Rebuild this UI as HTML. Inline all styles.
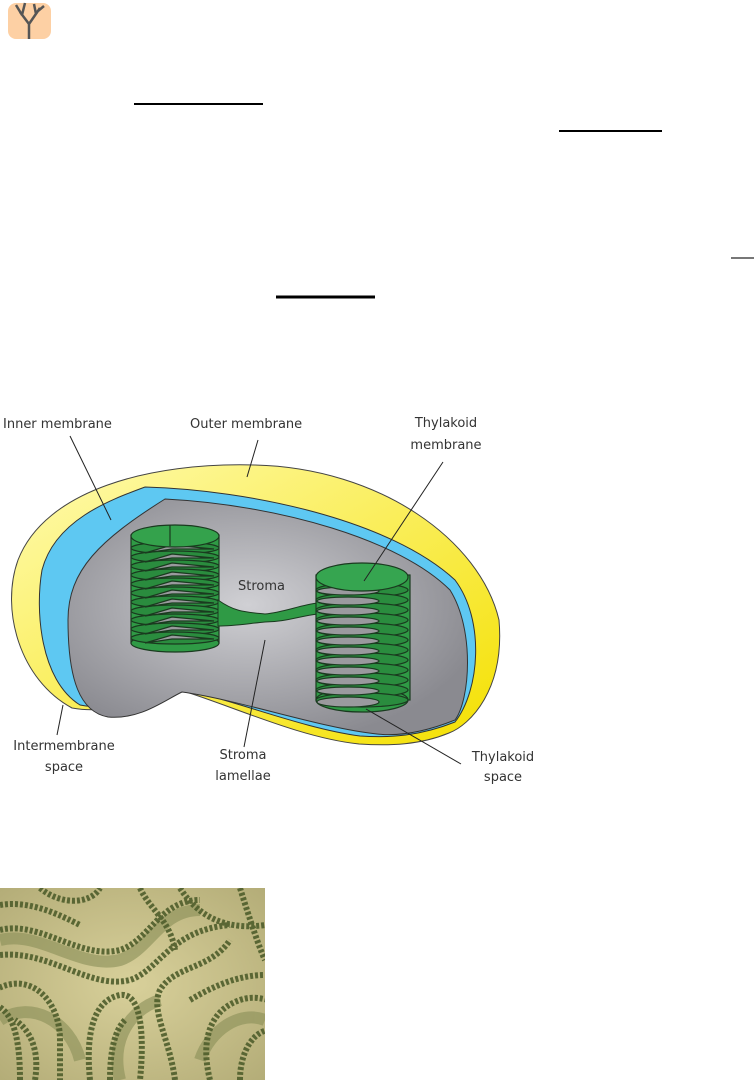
<!DOCTYPE html>
<html><head><meta charset="utf-8"><style>
html,body{margin:0;padding:0;background:#fff;width:756px;height:1080px;overflow:hidden}
svg{position:absolute;left:0;top:0}
text{font-family:"DejaVu Sans","Liberation Sans",sans-serif;font-size:13px;fill:#333}
</style></head><body>
<svg width="756" height="1080" viewBox="0 0 756 1080">
<defs>
<linearGradient id="gy" x1="0" y1="0" x2="1" y2="1"><stop offset="0" stop-color="#fffbb0"/><stop offset="1" stop-color="#f4e000"/></linearGradient>
<radialGradient id="gg" cx="0.45" cy="0.45" r="0.6"><stop offset="0" stop-color="#d0d0d4"/><stop offset="1" stop-color="#8a8a90"/></radialGradient>
<radialGradient id="mg" cx="0.5" cy="0.5" r="0.7"><stop offset="0" stop-color="#d8d09a"/><stop offset="1" stop-color="#b4ad78"/></radialGradient>
</defs>
<!-- icon -->
<rect x="8" y="3" width="43" height="36" rx="8" fill="#fdd0a4"/>
<path d="M29 39 L29 24 M29 24 L20 12 M29 24 L40 8 M22 15 L16 5 M22 15 L25 3 M36 14 L34 4 M38 11 L44 6" stroke="#555" stroke-width="2.5" fill="none"/>
<!-- underlines -->
<line x1="134" y1="104" x2="263" y2="104" stroke="#000" stroke-width="2"/>
<line x1="559" y1="131" x2="662" y2="131" stroke="#000" stroke-width="2"/>
<line x1="731" y1="258" x2="754" y2="258" stroke="#777" stroke-width="2"/>
<line x1="276" y1="297" x2="375" y2="297" stroke="#000" stroke-width="3"/>

<!-- chloroplast outer -->
<path d="M72 708 C20 680 0 610 18 560 C45 490 150 462 255 465 C380 468 480 540 499 620 C505 690 470 725 449 733 C420 745 390 746 359 744 C300 738 230 705 180 690 C150 700 110 715 72 708 Z" fill="url(#gy)" stroke="#444" stroke-width="1"/>
<path d="M80 705 C40 680 35 610 42 570 C55 520 110 500 145 487 C250 490 390 520 455 580 C485 620 480 690 455 722 C420 736 390 738 360 736 C300 728 230 698 182 690 C150 700 115 712 80 705 Z" fill="#5ec8f2" stroke="#333" stroke-width="1"/>
<path d="M108 717 C80 712 68 680 68 620 C68 570 100 540 165 499 C280 505 400 540 450 590 C475 630 470 700 455 720 C420 734 395 736 377 734 C320 728 240 700 182 692 C165 700 140 720 108 717 Z" fill="url(#gg)" stroke="#333" stroke-width="1"/>

<!-- left stack -->
<g stroke="#1a3a1f" stroke-width="1.2">
<rect x="131" y="535" width="88" height="108" fill="#2f9a45"/>
<ellipse cx="175" cy="643" rx="44" ry="9" fill="#2f9a45"/>
<g fill="#2a8c3e">
<ellipse cx="175" cy="548" rx="44" ry="6"/><ellipse cx="175" cy="557" rx="44" ry="6"/><ellipse cx="175" cy="566" rx="44" ry="6"/><ellipse cx="175" cy="575" rx="44" ry="6"/><ellipse cx="175" cy="584" rx="44" ry="6"/><ellipse cx="175" cy="593" rx="44" ry="6"/><ellipse cx="175" cy="602" rx="44" ry="6"/><ellipse cx="175" cy="611" rx="44" ry="6"/><ellipse cx="175" cy="620" rx="44" ry="6"/><ellipse cx="175" cy="629" rx="44" ry="6"/><ellipse cx="175" cy="638" rx="44" ry="6"/>
</g>
<g fill="#9a9a9e">
<path d="M145 553 L172 545 L214 549 L172 549 Z"/><path d="M145 562 L172 554 L214 558 L172 558 Z"/><path d="M145 571 L172 563 L214 567 L172 567 Z"/><path d="M145 580 L172 572 L214 576 L172 576 Z"/><path d="M145 589 L172 581 L214 585 L172 585 Z"/><path d="M145 598 L172 590 L214 594 L172 594 Z"/><path d="M145 607 L172 599 L214 603 L172 603 Z"/><path d="M145 616 L172 608 L214 612 L172 612 Z"/><path d="M145 625 L172 617 L214 621 L172 621 Z"/><path d="M145 634 L172 626 L214 630 L172 630 Z"/><path d="M145 643 L172 635 L214 639 L172 639 Z"/>
</g>
<ellipse cx="175" cy="536" rx="44" ry="11" fill="#34a24c"/>
<line x1="170" y1="525" x2="170" y2="546"/>
</g>
<path d="M218 600 C235 612 245 612 265 614 C285 612 300 605 318 603 L318 614 C300 616 285 622 265 622 C245 624 232 626 218 626 Z" fill="#2f9a45" stroke="#1a3a1f" stroke-width="1"/>
<!-- right stack -->
<g stroke="#1a3a1f" stroke-width="1.2">
<rect x="316" y="575" width="94" height="125" fill="#2f9a45"/>
<ellipse cx="362" cy="700" rx="46" ry="12" fill="#2f9a45"/>
<g fill="#2a8c3e">
<ellipse cx="362" cy="590" rx="46" ry="7"/><ellipse cx="362" cy="600" rx="46" ry="7"/><ellipse cx="362" cy="610" rx="46" ry="7"/><ellipse cx="362" cy="620" rx="46" ry="7"/><ellipse cx="362" cy="630" rx="46" ry="7"/><ellipse cx="362" cy="640" rx="46" ry="7"/><ellipse cx="362" cy="650" rx="46" ry="7"/><ellipse cx="362" cy="660" rx="46" ry="7"/><ellipse cx="362" cy="670" rx="46" ry="7"/><ellipse cx="362" cy="680" rx="46" ry="7"/><ellipse cx="362" cy="690" rx="46" ry="7"/><ellipse cx="362" cy="700" rx="46" ry="7"/>
</g>
<g fill="#9a9a9e">
<ellipse cx="348" cy="591" rx="31" ry="4"/><ellipse cx="348" cy="601" rx="31" ry="4"/><ellipse cx="348" cy="611" rx="31" ry="4"/><ellipse cx="348" cy="621" rx="31" ry="4"/><ellipse cx="348" cy="631" rx="31" ry="4"/><ellipse cx="348" cy="641" rx="31" ry="4"/><ellipse cx="348" cy="651" rx="31" ry="4"/><ellipse cx="348" cy="661" rx="31" ry="4"/><ellipse cx="348" cy="671" rx="31" ry="4"/><ellipse cx="348" cy="681" rx="31" ry="4"/><ellipse cx="348" cy="691" rx="31" ry="4"/><ellipse cx="348" cy="702" rx="31" ry="5"/>
</g>
<ellipse cx="362" cy="577" rx="46" ry="14" fill="#36a550"/>
</g>

<g stroke="#222" stroke-width="1" fill="none">
<line x1="70" y1="436" x2="111" y2="520"/>
<line x1="258" y1="440" x2="247" y2="477"/>
<line x1="443" y1="462" x2="364" y2="581"/>
<line x1="57" y1="735" x2="63" y2="705"/>
<line x1="244" y1="747" x2="265" y2="640"/>
<line x1="461" y1="764" x2="366" y2="709"/>
</g>
<text x="3" y="428">Inner membrane</text>
<text x="190" y="428">Outer membrane</text>
<text x="446" y="427" text-anchor="middle">Thylakoid</text>
<text x="446" y="449" text-anchor="middle">membrane</text>
<text x="238" y="590">Stroma</text>
<text x="64" y="750" text-anchor="middle">Intermembrane</text>
<text x="64" y="771" text-anchor="middle">space</text>
<text x="243" y="759" text-anchor="middle">Stroma</text>
<text x="243" y="780" text-anchor="middle">lamellae</text>
<text x="503" y="761" text-anchor="middle">Thylakoid</text>
<text x="503" y="781" text-anchor="middle">space</text>

<!-- micrograph -->
<clipPath id="mc"><rect x="0" y="888" width="265" height="192"/></clipPath>
<g clip-path="url(#mc)">
<rect x="0" y="888" width="265" height="192" fill="url(#mg)"/>
<g fill="none" stroke="#8a8f58" stroke-width="12" opacity="0.6">
<path d="M0 940 C40 930 80 970 120 960 C150 950 160 910 200 910"/>
<path d="M0 1020 C30 1000 70 1020 80 1060"/>
<path d="M120 1080 C110 1040 130 1010 160 1000"/>
<path d="M200 1060 C210 1030 240 1010 265 1020"/>
</g>
<g fill="none" stroke="#4f5e2c" stroke-width="6" stroke-dasharray="3 2" opacity="0.9">
<path d="M0 930 C40 920 80 960 120 950 C150 940 160 900 200 900"/>
<path d="M0 955 C50 950 90 990 130 980 C160 970 170 930 230 925"/>
<path d="M-5 990 C30 970 60 1000 60 1040 L60 1080"/>
<path d="M20 1080 C20 1030 10 1010 -5 1005"/>
<path d="M90 1080 C85 1030 95 1000 120 995 C140 992 145 1030 140 1080"/>
<path d="M175 1080 C170 1040 150 1010 160 990 C175 965 210 970 230 940"/>
<path d="M210 1080 C200 1040 210 1010 240 1000 C255 995 265 1000 270 1000"/>
<path d="M180 888 C200 920 230 930 265 925"/>
<path d="M140 888 C150 910 170 920 175 950"/>
<path d="M240 888 C250 920 260 950 265 960"/>
<path d="M40 888 C60 905 90 905 100 888"/>
<path d="M240 1080 C240 1050 255 1030 270 1030"/>
<path d="M0 905 C30 900 60 915 80 925"/>
<path d="M35 1080 C40 1050 30 1030 15 1020"/>
<path d="M110 1080 C110 1050 115 1030 125 1020"/>
<path d="M190 1000 C215 985 240 975 265 975"/>
</g>
</g>
</svg>
</body></html>
